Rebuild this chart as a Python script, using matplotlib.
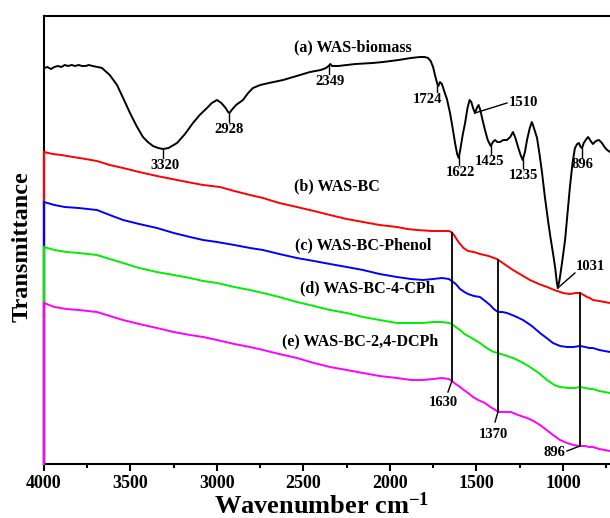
import numpy as np
import matplotlib
matplotlib.use("Agg")
import matplotlib.pyplot as plt
from matplotlib.ticker import MultipleLocator

plt.rcParams['font.family'] = ['Liberation Serif', 'DejaVu Serif']
plt.rcParams['font.weight'] = 'bold'
plt.rcParams['mathtext.fontset'] = 'custom'
plt.rcParams['mathtext.rm'] = 'Liberation Serif:bold'
plt.rcParams['mathtext.bf'] = 'Liberation Serif:bold'
plt.rcParams['mathtext.it'] = 'Liberation Serif:bold'

# ---------------- data (wavenumber, arbitrary transmittance units) -------------
wn_a = [4000, 3980, 3960, 3940, 3920, 3900, 3880, 3860, 3840, 3820, 3800, 3780, 3760,
        3740, 3720, 3690, 3665, 3620, 3578, 3540, 3503, 3465, 3428, 3400, 3370, 3340,
        3312, 3280, 3231, 3185, 3139, 3100, 3058, 3030, 3000, 2975, 2950, 2936, 2928,
        2915, 2890, 2850, 2820, 2792, 2750, 2700, 2618, 2540, 2462, 2400, 2370, 2355,
        2345, 2335, 2300, 2200, 2100, 2040, 1950, 1880, 1827, 1800, 1780, 1765, 1751,
        1740, 1728, 1720, 1711, 1700, 1685, 1671, 1653, 1638, 1624, 1612, 1603, 1594,
        1580, 1566, 1552, 1540, 1530, 1520, 1509, 1498, 1488, 1478, 1465, 1451, 1435,
        1418, 1405, 1393, 1380, 1364, 1345, 1324, 1305, 1289, 1275, 1260, 1245, 1233,
        1220, 1208, 1192, 1180, 1168, 1150, 1135, 1121, 1104, 1087, 1072, 1058, 1045,
        1036, 1030, 1020, 1005, 988, 972, 960, 945, 931, 918, 908, 898, 890, 880, 865,
        855, 840, 827, 810, 792, 775, 760, 745, 728]
pix_a = [68, 67, 69, 67, 66, 67, 65, 66, 65, 66, 65, 66, 66,
         65, 66, 67, 68, 75, 85, 99, 113, 126, 137, 142, 146, 148,
         149, 148, 143, 134, 123, 115, 108, 103, 100, 103, 108, 112, 113,
         110, 105, 100, 93, 88, 85, 83, 80, 76, 72, 70, 68, 66,
         64, 66, 66, 64, 63, 62, 60, 58, 57, 57, 58, 61, 67,
         75, 83, 86, 82, 84, 92, 99, 113, 128, 143, 154, 158, 150,
         135, 123, 108, 100, 102, 108, 113, 108, 105, 110, 120, 130, 140,
         146, 142, 140, 142, 142, 140, 140, 137, 132, 138, 147, 155, 160,
         152, 140, 128, 122, 128, 138, 155, 173, 198, 220, 238, 253, 268,
         282, 288, 280, 262, 240, 210, 187, 163, 148, 144, 143, 147, 148, 143, 139,
         137, 141, 144, 141, 140, 143, 147, 150, 152]

wn_b = [4000, 3950, 3900, 3832, 3760, 3694, 3620, 3543, 3450, 3347, 3260, 3173, 3080,
        2983, 2900, 2809, 2734, 2640, 2538, 2440, 2347, 2250, 2156, 2060, 1960, 1900,
        1844, 1760, 1699, 1660, 1645, 1630, 1612, 1595, 1575, 1549, 1515, 1480, 1430,
        1382, 1340, 1289, 1240, 1191, 1140, 1092, 1050, 1000, 960, 925, 902, 880, 861,
        845, 827, 790, 760, 728]
pix_b = [152, 154, 155, 157, 159, 161, 165, 168, 172, 176, 179, 182, 185,
         187, 191, 195, 198, 203, 207, 211, 215, 219, 222, 225, 227, 229,
         230, 231, 231, 231, 232, 235, 240, 244, 248, 251, 252, 254, 256,
         259, 264, 270, 275, 280, 284, 287, 290, 293, 294, 293, 293, 295, 297,
         298, 300, 301, 302, 303]

wn_c = [4000, 3940, 3880, 3800, 3694, 3620, 3543, 3450, 3347, 3250, 3156, 3080, 3000,
        2900, 2809, 2734, 2640, 2538, 2440, 2347, 2250, 2156, 2060, 1960, 1880, 1809,
        1750, 1699, 1660, 1642, 1620, 1595, 1570, 1549, 1515, 1480, 1450, 1422, 1400,
        1376, 1350, 1324, 1280, 1231, 1180, 1133, 1095, 1058, 1017, 977, 940, 902, 870,
        850, 827, 790, 760, 728]
pix_c = [202, 205, 207, 208, 210, 215, 220, 224, 228, 233, 237, 240, 242,
         245, 248, 250, 254, 258, 261, 264, 267, 270, 274, 277, 279, 280,
         279, 278, 279, 281, 284, 289, 292, 294, 296, 297, 301, 305, 309,
         312, 312, 313, 316, 320, 326, 333, 338, 343, 346, 347, 347, 346, 347,
         348, 348, 350, 351, 352]

wn_d = [4000, 3940, 3870, 3800, 3694, 3620, 3543, 3450, 3347, 3250, 3156, 3080, 3000,
        2900, 2809, 2734, 2640, 2538, 2440, 2347, 2250, 2156, 2060, 1960, 1880, 1809,
        1750, 1699, 1660, 1642, 1620, 1595, 1570, 1538, 1510, 1480, 1450, 1422, 1400,
        1376, 1340, 1289, 1240, 1191, 1140, 1092, 1050, 1017, 970, 930, 902, 870, 840,
        827, 790, 760, 728]
pix_d = [247, 250, 252, 253, 255, 259, 263, 268, 272, 275, 278, 281, 283,
         287, 290, 293, 297, 302, 306, 310, 313, 317, 320, 323, 323, 323,
         322, 322, 323, 324, 327, 330, 334, 337, 340, 343, 347, 350, 352,
         353, 355, 358, 362, 367, 373, 380, 385, 387, 388, 388, 387, 388, 389,
         389, 391, 392, 393]

wn_e = [4000, 3940, 3870, 3800, 3694, 3620, 3543, 3450, 3347, 3250, 3156, 3080, 3000,
        2900, 2809, 2734, 2640, 2538, 2440, 2347, 2250, 2156, 2060, 1960, 1880, 1809,
        1750, 1699, 1660, 1642, 1620, 1595, 1573, 1549, 1520, 1490, 1451, 1420, 1390,
        1376, 1340, 1301, 1260, 1208, 1170, 1133, 1095, 1058, 1017, 977, 940, 902, 870,
        850, 827, 790, 760, 728]
pix_e = [303, 307, 309, 310, 312, 316, 320, 324, 328, 332, 335, 337, 340,
         344, 347, 350, 354, 358, 363, 367, 370, 373, 376, 378, 380, 380,
         379, 378, 379, 381, 384, 387, 390, 393, 397, 400, 403, 407, 410,
         412, 412, 412, 415, 418, 421, 425, 430, 435, 440, 443, 445, 446, 446,
         447, 447, 449, 450, 451]

series_labels = ["(a) WAS-biomass", "(b) WAS-BC", "(c) WAS-BC-Phenol",
                 "(d) WAS-BC-4-CPh", "(e) WAS-BC-2,4-DCPh"]
series_colors = ["black", "#ff0000", "#0000ff", "#00ee00", "#ff00ff"]

# peak annotations on biomass curve: (label, wavenumber of tick, label wavenumber)
peaks_a = [("3320", 3312, 3300), ("2928", 2928, 2928), ("2349", 2352, 2347),
           ("1724", 1728, 1785), ("1622", 1601, 1595), ("1425", 1416, 1422),
           ("1235", 1231, 1231), ("896", 890, 888)]
# common band lines across biochar curves: (label, wavenumber)
bands = [("1630", 1642), ("1370", 1376), ("896", 902)]

TOP = 464  # conversion constant for read values


def tv(pix):
    return TOP - np.asarray(pix, dtype=float)


# ---------------- figure ---------------------------------------------------------
fig = plt.figure(figsize=(6.1, 5.18), dpi=100)
ax = fig.add_axes([44 / 610, 1 - 464 / 518, 566 / 610, 448 / 518])
ax.set_xlim(4000, 4000 - 566 / 0.173)
ax.set_ylim(0, 448)

curves = [(wn_a, pix_a), (wn_b, pix_b), (wn_c, pix_c), (wn_d, pix_d), (wn_e, pix_e)]
for (w, p), c in zip(curves, series_colors):
    ax.plot(w, tv(p), color=c, lw=1.4, zorder=3, solid_joinstyle='round')
for (w, p), c in zip(curves[1:], series_colors[1:]):
    ax.plot([w[0], w[0]], [tv(p)[0], 0], color=c, lw=1.6, zorder=4, clip_on=False)

# spines and ticks
for s in ['top', 'left', 'bottom']:
    ax.spines[s].set_linewidth(1.5)
ax.spines['right'].set_visible(False)
ax.set_yticks([])
ax.xaxis.set_major_locator(MultipleLocator(500))
ax.xaxis.set_minor_locator(MultipleLocator(250))
ax.tick_params(axis='x', which='major', direction='out', length=5, width=1.5,
               labelsize=13, pad=3)
ax.tick_params(axis='x', which='minor', direction='out', length=3, width=1.5)
for lab in ax.get_xticklabels():
    lab.set_fontweight('bold')

# series labels
lab_pos = [(2214, 417), (2306, 278), (2156, 219), (2133, 176), (2173, 123)]
for t, (x, y) in zip(series_labels, lab_pos):
    ax.text(x, y, t, fontsize=11.5, fontweight='bold', ha='center', va='center')

# biomass peak ticks and labels
wa = np.array(wn_a[::-1], float)
ya = tv(pix_a)[::-1]
for t, w, wl in peaks_a:
    yv = np.interp(w, wa, ya)
    ax.plot([w, w], [yv, yv - 9], color='black', lw=1.0)
    ax.text(wl, yv - 10, t, fontsize=10.5, fontweight='bold', ha='center', va='top')

# 1510 pointer
y1510 = np.interp(1509, wa, ya)
ax.plot([1509, 1324], [y1510, TOP - 103], color='black', lw=1.0)
ax.text(1315, TOP - 102, "1510", fontsize=10.5, fontweight='bold', ha='left', va='center')
# 1031 pointer
y1031 = np.interp(1030, wa, ya)
ax.plot([1030, 931], [y1031, TOP - 273], color='black', lw=1.0)
ax.text(925, TOP - 266, "1031", fontsize=10.5, fontweight='bold', ha='left', va='center')

# band lines through biochar curves
wb = np.array(wn_b[::-1], float); yb = tv(pix_b)[::-1]
we = np.array(wn_e[::-1], float); ye = tv(pix_e)[::-1]
band_ends = [((1665, TOP - 392), (1694, TOP - 403), 'center'),
             ((1393, TOP - 422), (1405, TOP - 434), 'center'),
             ((977, TOP - 451), (985, TOP - 453), 'right')]
for (t, w), (end, tpos, ha) in zip(bands, band_ends):
    ytop = np.interp(w, wb, yb)
    ybot = np.interp(w, we, ye)
    ax.plot([w, w], [ytop, ybot], color='black', lw=1.3, zorder=5)
    ax.plot([w, end[0]], [ybot, end[1]], color='black', lw=1.0, zorder=5)
    ax.text(tpos[0], tpos[1], t, fontsize=10.5, fontweight='bold', ha=ha, va='center')

fig.text(22 / 610, 1 - 247 / 518, "Transmittance", rotation=90, fontsize=17.5,
         fontweight='bold', ha='center', va='center')
fig.text(322 / 610, 1 - 514 / 518, "Wavenumber cm$^{-1}$", fontsize=19,
         fontweight='bold', ha='center', va='baseline')

fig.savefig("out.png", dpi=100)
